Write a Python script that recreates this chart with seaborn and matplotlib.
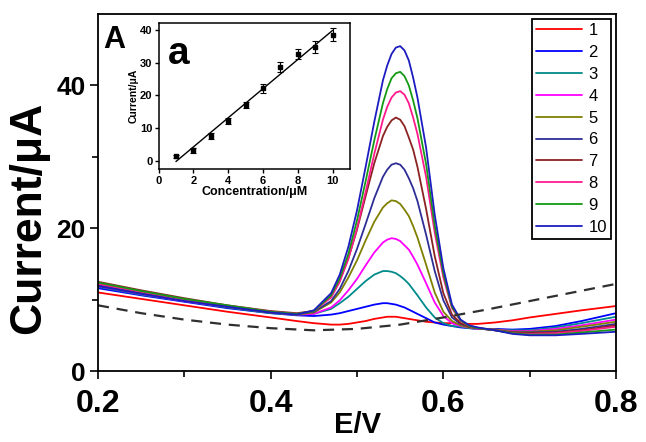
import numpy as np
import pandas as pd
import seaborn as sns
import matplotlib
matplotlib.use('Agg')
import matplotlib.pyplot as plt

# DPV curves, potential in V, current in uA
potential = [0.20, 0.25, 0.30, 0.35, 0.40, 0.43, 0.45, 0.47, 0.48, 0.49, 0.50, 0.51, 0.52, 0.53,
             0.535, 0.54, 0.545, 0.55, 0.555, 0.56, 0.565, 0.57, 0.58, 0.59, 0.60, 0.61, 0.62,
             0.63, 0.64, 0.66, 0.68, 0.70, 0.73, 0.76, 0.80]
curve_1 = [11.0, 10.1, 9.2, 8.3, 7.5, 7.0, 6.7, 6.5, 6.5, 6.6, 6.8, 7.0, 7.3, 7.5,
           7.6, 7.6, 7.6, 7.5, 7.4, 7.3, 7.2, 7.1, 6.9, 6.8, 6.7, 6.7, 6.6,
           6.6, 6.6, 6.8, 7.1, 7.5, 8.0, 8.5, 9.1]
curve_2 = [11.6, 10.6, 9.7, 8.8, 8.1, 7.8, 7.7, 7.9, 8.1, 8.4, 8.7, 9.0, 9.3, 9.5,
           9.5, 9.4, 9.3, 9.1, 8.9, 8.6, 8.3, 8.0, 7.4, 6.8, 6.5, 6.3, 6.1,
           6.0, 5.9, 5.9, 5.8, 5.9, 6.3, 7.0, 8.1]
curve_3 = [11.8, 10.7, 9.8, 8.9, 8.1, 7.9, 8.0, 8.7, 9.5, 10.4, 11.5, 12.6, 13.5, 14.0,
           14.0, 13.9, 13.7, 13.3, 12.8, 12.2, 11.4, 10.6, 8.9, 7.5, 6.7, 6.3, 6.2,
           6.0, 5.9, 5.8, 5.7, 5.7, 6.1, 6.7, 7.6]
curve_4 = [11.9, 10.8, 9.8, 9.0, 8.2, 7.9, 8.0, 8.9, 9.9, 11.3, 12.9, 14.8, 16.6, 18.0,
           18.4, 18.6, 18.5, 18.2, 17.6, 17.0, 16.0, 14.9, 12.3, 9.6, 7.7, 6.7, 6.3,
           6.1, 5.9, 5.8, 5.6, 5.6, 5.9, 6.4, 7.2]
curve_5 = [12.0, 10.9, 9.9, 9.0, 8.2, 7.9, 8.2, 9.6, 11.0, 13.1, 15.5, 18.3, 20.9, 22.9,
           23.5, 23.9, 23.8, 23.4, 22.6, 21.7, 20.3, 18.7, 14.9, 11.0, 8.3, 7.0, 6.4,
           6.1, 6.0, 5.8, 5.5, 5.5, 5.7, 6.2, 6.9]
curve_6 = [12.1, 11.0, 10.0, 9.0, 8.2, 8.0, 8.3, 9.8, 11.5, 14.0, 17.1, 20.6, 24.2, 27.2,
           28.2, 28.9, 29.1, 28.9, 28.2, 27.0, 25.6, 23.8, 19.1, 14.0, 9.9, 7.5, 6.6,
           6.2, 6.0, 5.7, 5.4, 5.4, 5.5, 5.9, 6.6]
curve_7 = [12.5, 11.3, 10.2, 9.2, 8.4, 8.1, 8.4, 10.5, 12.7, 15.8, 19.8, 24.5, 29.1, 32.9,
           34.2, 35.1, 35.5, 35.2, 34.3, 32.7, 31.0, 28.6, 22.7, 16.1, 10.9, 7.9, 6.7,
           6.2, 6.0, 5.7, 5.4, 5.3, 5.4, 5.7, 6.4]
curve_8 = [12.2, 11.1, 10.0, 9.1, 8.3, 8.0, 8.4, 10.3, 12.5, 15.7, 20.0, 25.1, 30.4, 35.2,
           37.0, 38.3, 39.0, 39.2, 38.7, 37.5, 35.5, 33.2, 27.2, 19.4, 13.1, 8.8, 7.0,
           6.3, 6.0, 5.7, 5.3, 5.2, 5.3, 5.6, 6.2]
curve_9 = [12.4, 11.2, 10.1, 9.2, 8.3, 8.0, 8.4, 10.6, 13.0, 16.4, 21.1, 26.6, 32.3, 37.5,
           39.5, 41.0, 41.7, 41.9, 41.3, 40.0, 37.9, 35.4, 29.0, 20.4, 13.7, 9.0, 7.1,
           6.3, 6.0, 5.7, 5.3, 5.1, 5.1, 5.4, 5.8]
curve_10 = [11.9, 10.8, 9.8, 9.0, 8.2, 7.9, 8.5, 10.9, 13.5, 17.4, 22.5, 28.6, 34.9, 40.7,
            42.8, 44.4, 45.3, 45.5, 44.9, 43.5, 41.1, 38.3, 31.3, 21.9, 14.4, 9.3, 7.2,
            6.4, 6.1, 5.7, 5.2, 5.0, 5.0, 5.2, 5.5]
curve_labels = ['1', '2', '3', '4', '5', '6', '7', '8', '9', '10']

# blank (dashed)
blank_potential = [0.20, 0.25, 0.30, 0.35, 0.40, 0.45, 0.50, 0.55, 0.60, 0.65, 0.70, 0.75, 0.80]
blank_current = [9.2, 8.1, 7.2, 6.5, 6.0, 5.7, 5.9, 6.5, 7.5, 8.6, 9.8, 11.0, 12.2]

# inset calibration
conc = [1, 2, 3, 4, 5, 6, 7, 8, 9, 10]
peak_current = [1.4, 3.2, 7.6, 12.1, 17.0, 22.2, 28.6, 32.7, 34.7, 38.5]
peak_err = [0.5, 0.7, 0.8, 0.9, 1.0, 1.4, 1.5, 1.5, 1.8, 2.0]

colors = ['#ff0000', '#0000ff', '#008b8b', '#ff00ff', '#808000',
          '#2e2e96', '#8b2323', '#ff1a8c', '#159a15', '#1c1cc0']

sns.set_style('ticks')
plt.rcParams['font.family'] = ['Liberation Sans', 'DejaVu Sans']
plt.rcParams['font.weight'] = 'bold'
for key in ['text.color', 'axes.labelcolor', 'xtick.color', 'ytick.color', 'axes.edgecolor']:
    plt.rcParams[key] = 'black'

curves = [curve_1, curve_2, curve_3, curve_4, curve_5,
          curve_6, curve_7, curve_8, curve_9, curve_10]
df = pd.DataFrame({'E': potential * len(curves),
                   'I': sum(curves, []),
                   'curve': [lab for lab in curve_labels for _ in potential]})

fig = plt.figure(figsize=(6.46, 4.42), dpi=100)
ax = fig.add_axes([0.1517, 0.1606, 0.8019, 0.8077])

sns.lineplot(data=df, x='E', y='I', hue='curve', hue_order=curve_labels,
             palette=colors, linewidth=1.3, ax=ax, sort=False)
sns.lineplot(x=blank_potential, y=blank_current, color='#303030', linewidth=1.6,
             ax=ax, legend=False)
ax.lines[-1].set_dashes((5, 3.5))

ax.set_xlim(0.2, 0.8)
ax.set_ylim(0, 50)
ax.set_xticks([0.2, 0.4, 0.6, 0.8])
ax.set_xticks([0.3, 0.5, 0.7], minor=True)
ax.set_yticks([0, 20, 40])
ax.set_yticks([10, 30], minor=True)
ax.set_xticklabels(['0.2', '0.4', '0.6', '0.8'])
ax.tick_params(axis='x', which='major', labelsize=23, length=6, width=1.2, pad=7)
ax.tick_params(axis='y', which='major', labelsize=19, length=6, width=1.2, pad=3)
ax.tick_params(which='minor', length=4, width=1.2)
for lab in ax.get_xticklabels() + ax.get_yticklabels():
    lab.set_fontweight('bold')
for sp in ax.spines.values():
    sp.set_linewidth(1.3)
ax.set_xlabel('E/V', fontsize=21, fontweight='bold', labelpad=-6)
ax.set_ylabel('Current/\u03bcA', fontsize=32, fontweight='bold')
ax.yaxis.set_label_coords(-0.094, 0.43)

ax.text(0.01, 0.97, 'A', transform=ax.transAxes, fontsize=22, fontweight='bold',
        va='top', ha='left')

handles, labels = ax.get_legend_handles_labels()
leg = ax.legend(handles, labels, loc='upper right', fontsize=12, frameon=True,
                fancybox=False, framealpha=1, edgecolor='black',
                handlelength=2.75, handletextpad=0.4, labelspacing=0.41,
                borderpad=0.25, borderaxespad=0.3)
leg.get_frame().set_linewidth(1.3)
for t in leg.get_texts():
    t.set_fontweight('normal')

# inset
ins = fig.add_axes([0.2454, 0.6170, 0.2964, 0.3303])
sns.regplot(x=conc, y=peak_current, ci=None, scatter=False, ax=ins,
            line_kws={'color': 'black', 'linewidth': 1.0})
ins.errorbar(conc, peak_current, yerr=peak_err, fmt='s', color='black',
             markersize=3, capsize=2, elinewidth=0.8, capthick=0.8)
ins.set_xlim(0, 11)
ins.set_ylim(-2.6, 42)
ins.set_xticks([0, 2, 4, 6, 8, 10])
ins.set_yticks([0, 10, 20, 30, 40])
ins.tick_params(labelsize=8, length=3, width=1, pad=1.5)
for lab in ins.get_xticklabels() + ins.get_yticklabels():
    lab.set_fontweight('bold')
for sp in ins.spines.values():
    sp.set_linewidth(1.1)
ins.set_xlabel('Concentration/\u03bcM', fontsize=9, fontweight='bold', labelpad=0)
ins.set_ylabel('Current/\u03bcA', fontsize=7.5, fontweight='bold', labelpad=1)
ins.text(0.05, 0.91, 'a', transform=ins.transAxes, fontsize=28, fontweight='bold',
         va='top', ha='left')

fig.savefig('out.png', dpi=100)
